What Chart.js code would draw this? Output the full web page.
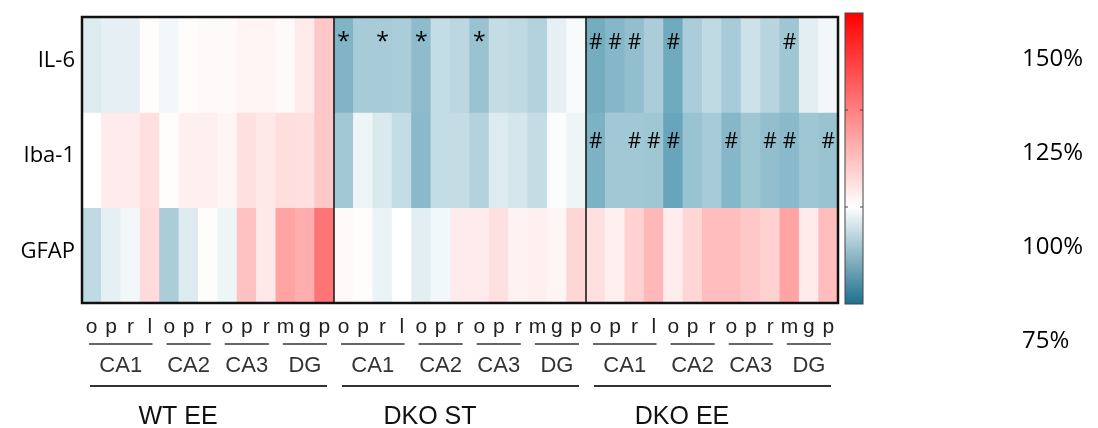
<!DOCTYPE html>
<html lang="en">
<head>
  <meta charset="UTF-8">
  <title>IL-6 / Iba-1 / GFAP heatmap</title>
  <style>
    body{margin:0;background:#fff}
    #wrap{width:1098px;height:428px;position:relative}
  </style>
  <script src="https://cdn.jsdelivr.net/npm/chart.js"></script>
</head>
<body>
  <div id="wrap"><canvas id="heat"></canvas></div>
  <script>
    const rows       = ['IL-6','Iba-1','GFAP'];
    const subLetters = ['o','p','r','l','o','p','r','o','p','r','m','g','p'];
    const regions    = ['CA1','CA2','CA3','DG'];
    const regionSize = [4,3,3,3];
    const groups     = ['WT EE','DKO ST','DKO EE'];

    // % of control, 13 columns per group (WT EE | DKO ST | DKO EE)
    const il6  = [96,97,97,100.5,98.5,100.5,101,101,102,102,101,104,111,
                  85,89.5,89.5,90,86.5,93,92,88,93,92.5,91,97,99,
                  83.5,85.5,87,90,83,90,92.5,89.5,94,91.5,88.5,96.5,98.5];
    const iba1 = [100,104,104,106,100.5,103,103,102,106,104.5,106.5,106,111,
                  89,98,95.5,93,86,93,93,91,96,95,93,99.5,98,
                  84.5,89,89,88.5,82,88,89.5,85.5,88.5,87,86,88.5,88];
    const gfap = [92.5,97,98.5,107,90,96,100.5,98,112,104.5,118,116,127,
                  101,100.5,97.5,100,96.5,98.5,104,104,106,102.5,103,102,108,
                  106,103,109,114,103.5,108,113,113,111,109,118,104,113];

    // significance marks (column indices)
    const il6Stars = [13,15,17,20];
    const il6Hash  = [26,27,28,30,36];
    const iba1Hash = [26,28,29,30,33,35,36,38];

    const scaleLabels = ['150%','125%','100%','75%'];
    const vMin = 75, vMid = 100, vMax = 150;

    const BLUE = [45,130,160], WHITE = [255,255,255], RED = [255,0,0];
    const mix = (a,b,t) => a.map((x,i) => Math.round(x + (b[i]-x)*t));
    function heatColor(v){
      if (v <= vMid) return `rgb(${mix(WHITE, BLUE, Math.min(1,(vMid-v)/(vMid-vMin)))})`;
      return `rgb(${mix(WHITE, RED, Math.min(1,(v-vMid)/(vMax-vMid)))})`;
    }

    const labels = groups.flatMap(() => subLetters);
    const values = [il6, iba1, gfap];
    const nRow = rows.length, perGroup = subLetters.length;

    const datasets = rows.map((name, r) => ({
      label: name,
      data: values[r].map(() => [nRow-1-r, nRow-r]),
      backgroundColor: values[r].map(heatColor),
      borderWidth: 0,
      barPercentage: 1,
      categoryPercentage: 1,
      grouped: false
    }));

    const marks = [
      {row:0, cols:il6Stars, sym:'*', size:23, dy:25},
      {row:0, cols:il6Hash,  sym:'#', size:21, dy:26},
      {row:1, cols:iba1Hash, sym:'#', size:21, dy:30}
    ];

    const decor = {
      id: 'decor',
      afterDraw(chart){
        const {ctx, chartArea:a, scales:{x, y}} = chart;
        const colW = x.getPixelForValue(1) - x.getPixelForValue(0);
        const left  = i => x.getPixelForValue(i) - colW/2;
        const right = i => x.getPixelForValue(i) + colW/2;
        ctx.save();

        // row names (drawn slightly above row centre, as in the original)
        ctx.fillStyle = '#000';
        ctx.textAlign = 'right';
        ctx.textBaseline = 'middle';
        ctx.font = '22px "Open Sans"';
        rows.forEach((r, i) => ctx.fillText(r, a.left - 7, y.getPixelForValue(nRow - 0.5 - i) - 4));

        // marks
        ctx.textAlign = 'center';
        marks.forEach(m => {
          ctx.font = `${m.size}px "Open Sans"`;
          const top = y.getPixelForValue(nRow - m.row);
          m.cols.forEach(c => ctx.fillText(m.sym, x.getPixelForValue(c), top + m.dy));
        });

        // group dividers + frame
        ctx.strokeStyle = '#111';
        ctx.lineWidth = 1.5;
        for (let g = 1; g < groups.length; g++){
          const px = left(g*perGroup);
          ctx.beginPath(); ctx.moveTo(px, a.top); ctx.lineTo(px, a.bottom); ctx.stroke();
        }
        ctx.lineWidth = 2.5;
        ctx.strokeRect(a.left, a.top, a.right-a.left, a.bottom-a.top);

        // region underlines and names
        ctx.strokeStyle = '#333';
        ctx.fillStyle = '#333';
        ctx.font = '22px "Liberation Sans"';
        groups.forEach((g, gi) => {
          let c = gi*perGroup;
          regions.forEach((rg, ri) => {
            const x0 = left(c) + 7, x1 = right(c + regionSize[ri] - 1) - 7;
            ctx.lineWidth = 1.5;
            ctx.beginPath(); ctx.moveTo(x0, 344); ctx.lineTo(x1, 344); ctx.stroke();
            ctx.fillText(rg, (x0+x1)/2, 366);
            c += regionSize[ri];
          });
          const g0 = left(gi*perGroup) + 8, g1 = right((gi+1)*perGroup - 1) - 7;
          ctx.lineWidth = 2;
          ctx.beginPath(); ctx.moveTo(g0, 386); ctx.lineTo(g1, 386); ctx.stroke();
        });
        ctx.fillStyle = '#111';
        ctx.font = '25px "Liberation Sans"';
        groups.forEach((g, gi) => {
          const cx = (left(gi*perGroup) + right((gi+1)*perGroup - 1))/2 - 30;
          ctx.fillText(g, cx, 417);
        });

        // colour bar
        const bx = 845, bw = 18, bt = 13, bb = 304;
        const grad = ctx.createLinearGradient(0, bt, 0, bb);
        grad.addColorStop(0, heatColor(vMax));
        grad.addColorStop((vMax-vMid)/(vMax-vMin), heatColor(vMid));
        grad.addColorStop(1, 'rgb(30,112,142)');
        ctx.fillStyle = grad;
        ctx.fillRect(bx, bt, bw, bb-bt);
        ctx.strokeStyle = '#444';
        ctx.lineWidth = 1;
        ctx.strokeRect(bx, bt, bw, bb-bt);
        [125, 100].forEach(v => {
          const ty = bb - (v - vMin)/(vMax - vMin)*(bb - bt);
          ctx.beginPath();
          ctx.moveTo(bx, ty); ctx.lineTo(bx+3, ty);
          ctx.moveTo(bx+bw-3, ty); ctx.lineTo(bx+bw, ty);
          ctx.stroke();
        });

        // scale labels
        ctx.fillStyle = '#000';
        ctx.textAlign = 'left';
        ctx.font = '24px "Open Sans"';
        scaleLabels.forEach((s, i) => ctx.fillText(s, 1022, 59 + i*94));
        ctx.restore();
      }
    };

    new Chart(document.getElementById('heat'), {
      type: 'bar',
      data: { labels, datasets },
      options: {
        responsive: true,
        maintainAspectRatio: false,
        animation: false,
        layout: { padding: { top:17, right:260, left:0, bottom:0 } },
        plugins: { legend:{ display:false }, tooltip:{ enabled:false } },
        scales: {
          x: {
            grid: { display:false, drawTicks:false },
            border: { display:false },
            ticks: { autoSkip:false, maxRotation:0, padding:12, color:'#222',
                     font:{ family:'Liberation Sans', size:21 } },
            afterFit: s => { s.height = 125; }
          },
          y: {
            min: 0, max: nRow,
            grid: { display:false, drawTicks:false },
            border: { display:false },
            ticks: { display:false },
            afterFit: s => { s.width = 82; }
          }
        }
      },
      plugins: [decor]
    });
  </script>
</body>
</html>
